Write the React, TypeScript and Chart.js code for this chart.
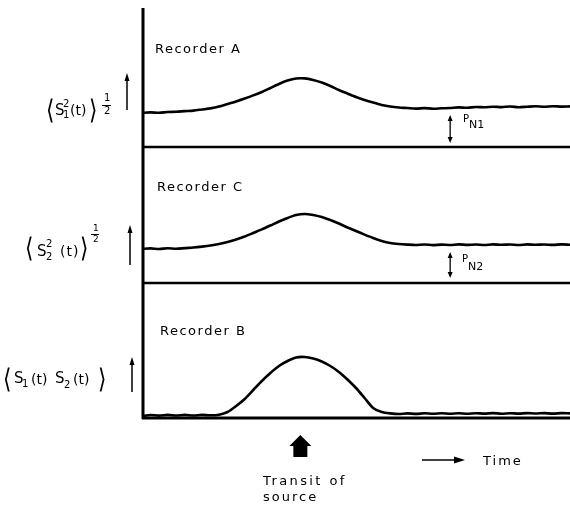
import React, { useEffect, useRef } from "react";
import { Chart, registerables } from "chart.js";

Chart.register(...registerables);

// Time axis (arbitrary units, 0..100 across the record)
const TIME = [
  0, 2, 4, 6, 8, 10, 12, 14, 16, 18, 20, 22, 24, 26, 28, 30, 32, 34, 36, 38, 40,
  42, 44, 46, 48, 50, 52, 54, 56, 58, 60, 62, 64, 66, 68, 70, 72, 74, 76, 78, 80,
  82, 84, 86, 88, 90, 92, 94, 96, 98, 100,
];

// Recorder A: <S1^2(t)>^1/2 (height above its own baseline)
const RECORDER_A = [
  34, 34.6, 34.2, 35, 35.3, 35.9, 36.4, 37.5, 38.6, 40.4, 43, 45.6, 48.5, 51.6,
  55, 59, 63, 66.4, 68.5, 68.6, 67, 64.4, 61, 57, 53.5, 50, 47, 44.4, 42.1, 40.5,
  39.5, 39, 38.4, 38.9, 38.3, 38.7, 39, 39.6, 39.2, 40, 39.7, 40.3, 39.9, 40.5,
  39.8, 40.3, 40.7, 40.2, 40.8, 40.4, 40.6,
];

// Recorder C: <S2^2(t)>^1/2
const RECORDER_C = [
  34, 34.6, 34, 34.7, 34.2, 34.9, 35.5, 36.4, 37.5, 39, 41, 43.6, 46.5, 50, 53.6,
  57.5, 61.5, 65, 68, 69, 68, 66, 63, 59.5, 55.5, 52, 48.4, 45, 42.1, 40, 39,
  38.4, 38, 38.5, 37.9, 38.4, 38, 38.6, 38.1, 38.5, 38, 38.6, 38.2, 38.5, 38,
  38.6, 38.2, 38.5, 38.1, 38.6, 38.3,
];

// Recorder B: <S1(t)S2(t)>
const RECORDER_B = [
  2, 3, 2.4, 3.1, 2.5, 3.1, 2.5, 3.1, 2.7, 3.3, 6, 12, 19, 28, 37, 45, 52, 57,
  60.5, 61, 59.5, 56.5, 52, 46, 38.5, 30, 20, 10, 6, 4.6, 4, 4.6, 4.1, 4.7, 4.2,
  4.8, 4.3, 4.7, 4.2, 4.8, 4.4, 4.9, 4.3, 4.8, 4.4, 4.9, 4.5, 4.9, 4.4, 4.9, 4.6,
];

const PANEL_NAMES = ["Recorder A", "Recorder C", "Recorder B"];
const PANEL_BASE = [271, 135, 0]; // baseline of each panel on the shared y axis
const NOISE_ARROWS = [
  { panel: 0, label: "N1", from: 4, to: 32 },
  { panel: 1, label: "N2", from: 5, to: 31 },
];
const NOISE_ARROW_TIME = 72;
const TRANSIT_TIME = 37;

const FONT = "'DejaVu Sans', 'Liberation Sans', sans-serif";

const decorations = {
  id: "decorations",
  afterDatasetsDraw(chart: any) {
    const { ctx, chartArea, scales } = chart;
    const xs = scales.x;
    const ys = scales.y;
    ctx.save();
    ctx.strokeStyle = "#000";
    ctx.fillStyle = "#000";
    ctx.lineCap = "butt";

    // vertical axis
    ctx.lineWidth = 3;
    ctx.beginPath();
    ctx.moveTo(chartArea.left + 1, chartArea.top);
    ctx.lineTo(chartArea.left + 1, chartArea.bottom + 1);
    ctx.stroke();

    // panel baselines
    PANEL_BASE.forEach((b, i) => {
      const y = ys.getPixelForValue(b);
      ctx.lineWidth = i === 2 ? 3 : 2.5;
      ctx.beginPath();
      ctx.moveTo(chartArea.left, y);
      ctx.lineTo(chartArea.right, y);
      ctx.stroke();
    });

    // noise double arrows
    const ax = xs.getPixelForValue(NOISE_ARROW_TIME);
    NOISE_ARROWS.forEach((a) => {
      const y1 = ys.getPixelForValue(PANEL_BASE[a.panel] + a.to);
      const y2 = ys.getPixelForValue(PANEL_BASE[a.panel] + a.from);
      ctx.lineWidth = 1.3;
      ctx.beginPath();
      ctx.moveTo(ax, y1 + 3);
      ctx.lineTo(ax, y2 - 3);
      ctx.stroke();
      ctx.beginPath();
      ctx.moveTo(ax, y1);
      ctx.lineTo(ax - 2.5, y1 + 6);
      ctx.lineTo(ax + 2.5, y1 + 6);
      ctx.closePath();
      ctx.fill();
      ctx.beginPath();
      ctx.moveTo(ax, y2);
      ctx.lineTo(ax - 2.5, y2 - 6);
      ctx.lineTo(ax + 2.5, y2 - 6);
      ctx.closePath();
      ctx.fill();
    });

    // up arrows beside the y labels
    const upArrows = [
      [127, 73, 110],
      [130, 225, 265],
      [132, 357, 392],
    ];
    upArrows.forEach(([x, top, bot]) => {
      ctx.lineWidth = 1.5;
      ctx.beginPath();
      ctx.moveTo(x, top + 4);
      ctx.lineTo(x, bot);
      ctx.stroke();
      ctx.beginPath();
      ctx.moveTo(x, top);
      ctx.lineTo(x - 2.5, top + 8);
      ctx.lineTo(x + 2.5, top + 8);
      ctx.closePath();
      ctx.fill();
    });

    // transit-of-source block arrow
    const tx = xs.getPixelForValue(TRANSIT_TIME);
    ctx.beginPath();
    ctx.moveTo(tx, 435);
    ctx.lineTo(tx + 11, 446);
    ctx.lineTo(tx + 7, 446);
    ctx.lineTo(tx + 7, 457);
    ctx.lineTo(tx - 7, 457);
    ctx.lineTo(tx - 7, 446);
    ctx.lineTo(tx - 11, 446);
    ctx.closePath();
    ctx.fill();

    // time arrow
    ctx.lineWidth = 1.5;
    ctx.beginPath();
    ctx.moveTo(422, 460);
    ctx.lineTo(456, 460);
    ctx.stroke();
    ctx.beginPath();
    ctx.moveTo(465, 460);
    ctx.lineTo(454, 456.5);
    ctx.lineTo(454, 463.5);
    ctx.closePath();
    ctx.fill();

    ctx.restore();
  },
};

function Txt(props: { x: number; y: number; size?: number; ls?: number; children: any; style?: any }) {
  const { x, y, size = 13, ls = 0, children, style } = props;
  return (
    <div
      style={{
        position: "absolute",
        left: x,
        top: y,
        fontSize: size,
        lineHeight: 1,
        letterSpacing: ls,
        fontFamily: FONT,
        whiteSpace: "nowrap",
        color: "#000",
        ...style,
      }}
    >
      {children}
    </div>
  );
}

function Bar(props: { x: number; y: number; w: number }) {
  return (
    <div
      style={{
        position: "absolute",
        left: props.x,
        top: props.y,
        width: props.w,
        height: 1.4,
        background: "#000",
      }}
    />
  );
}

const BR = { fontWeight: 200, transform: "scaleX(0.8)" };

export default function App() {
  const ref = useRef<HTMLCanvasElement | null>(null);

  useEffect(() => {
    if (!ref.current) return;
    const series = [RECORDER_A, RECORDER_C, RECORDER_B];
    const chart = new Chart(ref.current, {
      type: "line",
      data: {
        datasets: series.map((vals, i) => ({
          label: PANEL_NAMES[i],
          data: TIME.map((t, k) => ({ x: t, y: PANEL_BASE[i] + vals[k] })),
          borderColor: "#000",
          borderWidth: 2.6,
          pointRadius: 0,
          tension: 0.25,
          fill: false,
        })),
      },
      options: {
        responsive: false,
        animation: false,
        devicePixelRatio: 1,
        layout: { padding: { left: 142, top: 8, right: 0, bottom: 87 } },
        plugins: { legend: { display: false }, tooltip: { enabled: false }, title: { display: false } },
        scales: {
          x: { type: "linear", min: 0, max: 100, display: false },
          y: { type: "linear", min: 0, max: 410, display: false },
        },
        events: [],
      },
      plugins: [decorations],
    });
    return () => chart.destroy();
  }, []);

  return (
    <div style={{ position: "fixed", left: 0, top: 0, width: 570, height: 505, background: "#fff" }}>
      <canvas ref={ref} width={570} height={505} style={{ position: "absolute", left: 0, top: 0 }} />

      <Txt x={155} y={41.5} ls={1.5}>{PANEL_NAMES[0]}</Txt>
      <Txt x={157} y={180} ls={1.5}>{PANEL_NAMES[1]}</Txt>
      <Txt x={160} y={323.5} ls={1.5}>{PANEL_NAMES[2]}</Txt>

      {/* <S1^2(t)>^1/2 */}
      <Txt x={45} y={96} size={27} style={BR}>⟨</Txt>
      <Txt x={55} y={102.5} size={15}>S</Txt>
      <Txt x={63} y={99} size={10}>2</Txt>
      <Txt x={63} y={110} size={10}>1</Txt>
      <Txt x={70} y={103} size={14}>(t)</Txt>
      <Txt x={88} y={96} size={27} style={BR}>⟩</Txt>
      <Txt x={104} y={93} size={10}>1</Txt>
      <Bar x={102} y={104.5} w={9} />
      <Txt x={104} y={106} size={10}>2</Txt>

      {/* <S2^2(t)>^1/2 */}
      <Txt x={24} y={234} size={27} style={BR}>⟨</Txt>
      <Txt x={37} y={243.5} size={15}>S</Txt>
      <Txt x={46} y={239} size={10}>2</Txt>
      <Txt x={46} y={252} size={10}>2</Txt>
      <Txt x={60} y={244} size={14} ls={1}>(t)</Txt>
      <Txt x={79} y={234} size={27} style={BR}>⟩</Txt>
      <Txt x={93} y={223.5} size={9}>1</Txt>
      <Bar x={91} y={233.5} w={8} />
      <Txt x={93} y={235} size={9}>2</Txt>

      {/* <S1(t) S2(t)> */}
      <Txt x={2} y={365} size={27} style={BR}>⟨</Txt>
      <Txt x={14} y={371} size={15}>S</Txt>
      <Txt x={22} y={379} size={10}>1</Txt>
      <Txt x={31} y={372} size={14}>(t)</Txt>
      <Txt x={55} y={371} size={15}>S</Txt>
      <Txt x={64} y={380} size={10}>2</Txt>
      <Txt x={73} y={372} size={14}>(t)</Txt>
      <Txt x={97} y={365} size={27} style={BR}>⟩</Txt>

      {/* noise level labels */}
      <Txt x={463} y={113.5} size={10}>P</Txt>
      <Txt x={469} y={118.5} size={11}>{NOISE_ARROWS[0].label}</Txt>
      <Txt x={462} y={254} size={10}>P</Txt>
      <Txt x={468} y={260.5} size={11}>{NOISE_ARROWS[1].label}</Txt>

      <Txt x={263} y={473.5} ls={2.4}>Transit of</Txt>
      <Txt x={263} y={490} ls={2}>source</Txt>
      <Txt x={483} y={453.5} ls={2}>Time</Txt>
    </div>
  );
}
